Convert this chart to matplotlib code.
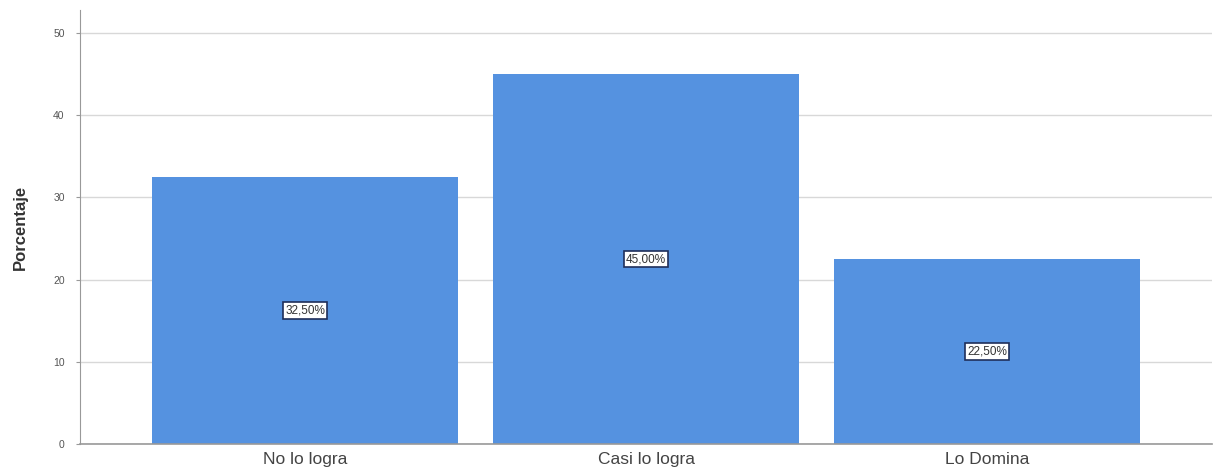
import matplotlib
matplotlib.use("Agg")
import matplotlib.pyplot as plt
import numpy as np

# Daten
kategorien = ["No lo logra", "Casi lo logra", "Lo Domina"]
prozent = [32.5, 45.0, 22.5]
etiketten = ["32,50%", "45,00%", "22,50%"]
y_ticks = [0, 10, 20, 30, 40, 50]

balken_farbe = "#5592e0"
plt.rcParams["font.family"] = ["Liberation Sans", "DejaVu Sans"]

fig = plt.figure(figsize=(12.19, 4.75), dpi=100)
ax = fig.add_axes([0.0656, 0.0653, 0.9287, 0.9137])

x = np.arange(len(kategorien))
ax.bar(x, prozent, width=0.9, color=balken_farbe, zorder=2)

# Beschriftung in der Mitte der Balken
for xi, wert, txt in zip(x, prozent, etiketten):
    ax.text(xi, wert / 2, txt, ha="center", va="center", fontsize=8.5, color="#333333",
            bbox=dict(boxstyle="square,pad=0.2", facecolor="white", edgecolor="#1f2f5a", linewidth=1.2),
            zorder=3)

ax.set_xlim(-0.66, 2.66)
ax.set_ylim(0, 52.8)
ax.set_yticks(y_ticks)
ax.set_yticklabels([str(t) for t in y_ticks], fontsize=7.5, color="#555555")
ax.set_xticks(x)
ax.set_xticklabels(kategorien, fontsize=12.5, color="#444444")
ax.tick_params(axis="x", length=0, pad=6)
ax.tick_params(axis="y", length=3, color="#999999", pad=8)

ax.yaxis.grid(True, color="#d8d8d8", linewidth=1.0, zorder=0)
ax.set_axisbelow(True)

for s in ["top", "right"]:
    ax.spines[s].set_visible(False)
ax.spines["left"].set_color("#999999")
ax.spines["bottom"].set_color("#999999")
ax.spines["bottom"].set_linewidth(1.2)

ax.set_ylabel("Porcentaje", fontsize=12, fontweight="bold", color="#333333", labelpad=18)

fig.savefig("out.png", dpi=100)
